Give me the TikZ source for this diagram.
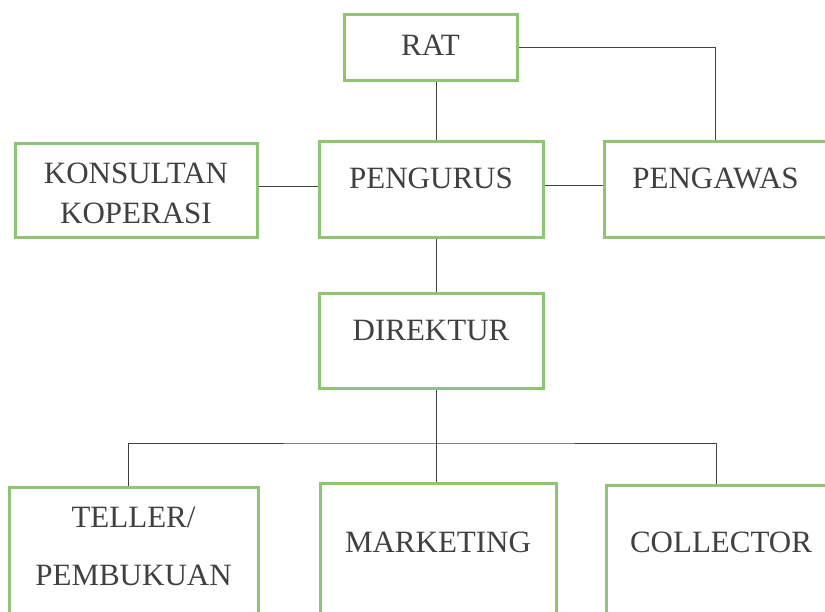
\documentclass[tikz,border=0pt]{standalone}
\usepackage{fontspec}
\setmainfont{Liberation Serif}

\definecolor{boxgreen}{RGB}{143,196,115}
\definecolor{inkgray}{RGB}{64,64,64}

\begin{document}
\begin{tikzpicture}[x = 1pt, y = -1pt,
	unit/.style = {draw = boxgreen, line width = 3pt, text = inkgray, inner sep = 0pt,
		anchor = base, font = \fontsize{31}{37}\selectfont},
	link/.style = {draw = inkgray, line width = 0.9pt}]
	
	\useasboundingbox (0, 0) rectangle (825, 611);
	
	% Top level
	
	\node [unit, minimum width = 173, text height = 41, text depth = 25] (rat) at (430.5, 55) {RAT};
	
	% Board row
	
	\node [unit, minimum width = 242, text height = 40, text depth = 54] (konsultan) at (136, 183)
		{\fontsize{31}{40}\selectfont\begin{tabular}[t]{@{}c@{}}KONSULTAN\\KOPERASI\end{tabular}};
	\node [unit, minimum width = 224, text height = 47, text depth = 49] (pengurus) at (431, 188) {PENGURUS};
	\node [unit, minimum width = 223, text height = 47, text depth = 49] (pengawas) at (715.5, 188) {PENGAWAS};
	
	% Director
	
	\node [unit, minimum width = 224, text height = 47, text depth = 48] (direktur) at (431, 340) {DIREKTUR};
	
	% Staff row
	
	\node [unit, minimum width = 249, text height = 40, text depth = 113] (teller) at (133.5, 527)
		{\fontsize{31}{58}\selectfont\begin{tabular}[t]{@{}c@{}}TELLER/\\PEMBUKUAN\end{tabular}};
	\node [unit, minimum width = 236, text height = 69, text depth = 88] (marketing) at (438, 552) {MARKETING};
	\node [unit, minimum width = 230, text height = 67, text depth = 88] (collector) at (721, 552) {COLLECTOR};
	
	\coordinate (bus) at (436, 443);
	
	% Lines between units
	
	\begin{scope}[link]
	
		\draw (rat.east) -| (pengawas.north);
		\draw ([xshift = 5]pengurus.north) -- ([xshift = 5]pengurus.north |- rat.south);
		\draw ([yshift = 4]konsultan.east) -- ([yshift = 3]pengurus.west);
		\draw ([yshift = 4]pengurus.east) -- ([yshift = 4]pengawas.west);
		\draw ([xshift = 5]pengurus.south) -- ([xshift = 5]direktur.north);
		\draw ([xshift = 5]direktur.south) -- (bus |- marketing.north);
		\draw ([xshift = -5]teller.north) |- (bus) -| ([xshift = -5]collector.north);
		
	\end{scope}

\end{tikzpicture}
\end{document}
